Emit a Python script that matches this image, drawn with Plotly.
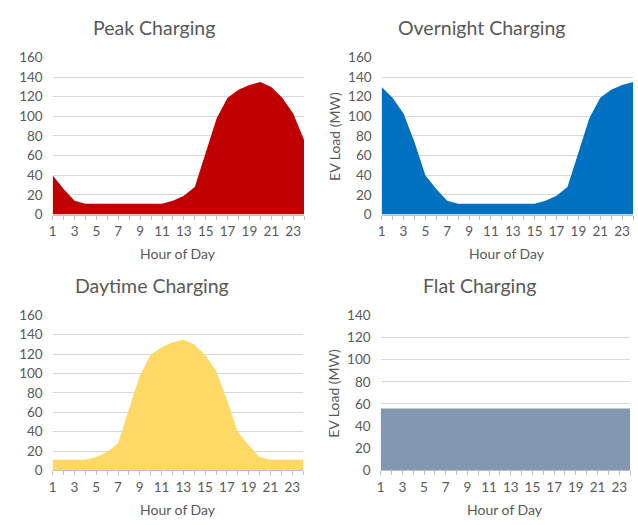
import plotly.graph_objects as go

hours = list(range(1, 25))
peak = [40, 26, 14, 11, 11, 11, 11, 11, 11, 11, 11, 14, 19, 28, 64, 98, 119, 127, 132, 135, 130, 119, 103, 76]
overnight = [130, 119, 103, 74, 40, 26, 14, 11, 11, 11, 11, 11, 11, 11, 11, 14, 19, 28, 64, 98, 119, 127, 132, 135]
daytime = [11, 11, 11, 11, 14, 19, 28, 64, 98, 119, 127, 132, 135, 130, 119, 103, 73, 40, 26, 14, 11, 11, 11, 11]
flat = [56] * 24

titles = ["Peak Charging", "Overnight Charging", "Daytime Charging", "Flat Charging"]
series = [peak, overnight, daytime, flat]
colors = ["#C00000", "#0070C0", "#FFD966", "#8497B0"]
ymax = [160, 160, 160, 140]
show_ytitle = [False, True, False, True]

W, H = 638, 525
# pixel boxes: (x0, x1, ytop, ybottom)
boxes = [(49, 302, 51, 213), (380, 633, 51, 213), (49, 301, 317, 477), (379, 630, 317, 477)]
title_pos = [(151, 20), (481, 20), (149, 286), (479, 286)]

FONT = "Lato"
GRAY = "#595959"

fig = go.Figure()
annotations = []
for i, (vals, col) in enumerate(zip(series, colors)):
    n = "" if i == 0 else str(i + 1)
    fig.add_trace(go.Scatter(x=hours, y=vals, mode="lines", fill="tozeroy",
                             fillcolor=col, line=dict(color=col, width=0),
                             xaxis="x" + n, yaxis="y" + n, showlegend=False,
                             hoverinfo="x+y"))
    x0, x1, yt, yb = boxes[i]
    xd = [x0 / W, x1 / W]
    yd = [1 - yb / H, 1 - yt / H]
    fig.layout["xaxis" + n] = dict(
        domain=xd, anchor="y" + n, range=[1, 24], tick0=1, dtick=2,
        ticks="outside", ticklen=4, tickcolor="#BFBFBF", showgrid=False,
        showline=True, linecolor="#BFBFBF", linewidth=1, zeroline=False,
        tickfont=dict(family=FONT, size=13.5, color=GRAY),
        minor=dict(dtick=1, tick0=1, ticks="outside", ticklen=4, tickcolor="#BFBFBF", showgrid=False),
        fixedrange=True,
    )
    fig.layout["yaxis" + n] = dict(
        domain=yd, anchor="x" + n, range=[0, ymax[i]], dtick=20,
        showgrid=True, gridcolor="#D9D9D9", gridwidth=1, zeroline=False,
        showline=False, ticks="", ticklabelstandoff=9,
        tickfont=dict(family=FONT, size=13.5, color=GRAY), fixedrange=True,
    )
    xc = (x0 + x1) / 2 / W
    tx, ty = title_pos[i]
    annotations.append(dict(text=titles[i], x=tx / W, y=1 - ty / H, xref="paper", yref="paper",
                            showarrow=False, font=dict(family=FONT, size=19.5, color=GRAY),
                            xanchor="center", yanchor="middle"))
    annotations.append(dict(text="Hour of Day", x=xc, y=1 - (yb + 40) / H, xref="paper", yref="paper",
                            showarrow=False, font=dict(family=FONT, size=14, color=GRAY),
                            xanchor="center", yanchor="middle"))
    if show_ytitle[i]:
        annotations.append(dict(text="EV Load (MW)", x=(x0 - 47) / W, y=1 - (yt + yb) / 2 / H,
                                xref="paper", yref="paper", textangle=-90, showarrow=False,
                                font=dict(family=FONT, size=14, color=GRAY),
                                xanchor="center", yanchor="middle"))

fig.update_layout(width=W, height=H, margin=dict(l=0, r=0, t=0, b=0),
                  paper_bgcolor="white", plot_bgcolor="white",
                  annotations=annotations)
fig.write_html("out.html", config={"displayModeBar": False},
               post_script="document.body.style.margin='0';document.body.style.padding='0';document.body.style.overflow='hidden';")
